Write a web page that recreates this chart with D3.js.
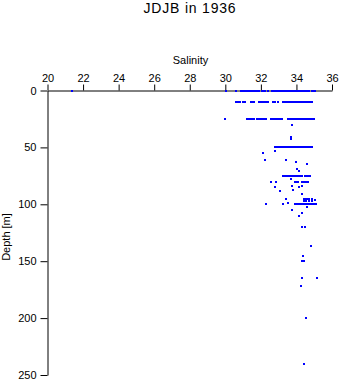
<!DOCTYPE html>
<html><head><meta charset="utf-8">
<script src="https://cdn.jsdelivr.net/npm/d3@7"></script>
<style>body{margin:0;background:#fff}svg{display:block}text{font-family:"Liberation Sans",Arial,sans-serif;fill:#000}</style>
</head><body><svg id="c" width="341" height="384"></svg>
<script>
const title = "JDJB in 1936";
const xLabel = "Salinity";
const yLabel = "Depth [m]";
const xTicks = [20,22,24,26,28,30,32,34,36];
const yTicks = [0,50,100,150,200,250];

const sal0 = [21.38,30.02,30.06,30.58,30.9,31.0,31.1,31.2,31.3,31.4,31.5,31.6,31.7,31.8,31.87,32.04,32.15,32.26,32.38,32.6,32.7,32.8,32.9,33.0,33.1,33.2,33.3,33.4,33.5,33.6,33.7,33.8,33.9,34.0,34.1,34.2,34.3,34.4,34.5,34.6,34.7,34.85,34.95,35.07];
const sal10 = [30.62,30.72,30.8,30.97,31.08,31.42,31.52,31.62,31.89,32.0,32.1,32.2,32.3,32.42,32.67,32.8,32.94,33.22,33.33,33.44,33.55,33.66,33.77,33.88,34.0,34.1,34.2,34.3,34.4,34.51,34.58,34.7,34.8,34.89];
const sal25 = [29.97,31.21,31.32,31.42,31.52,31.63,31.8,31.9,32.0,32.1,32.2,32.3,32.55,32.65,32.75,32.85,32.95,33.05,33.16,33.5,33.6,33.7,33.8,33.9,34.0,34.1,34.2,34.3,34.4,34.5,34.6,34.7,34.8,34.9,34.96];
const sal50 = [32.77,32.88,32.99,33.1,33.21,33.32,33.43,33.54,33.65,33.72,33.83,33.94,34.05,34.16,34.27,34.38,34.49,34.6,34.71,34.82,34.87];
const sal75 = [33.27,33.38,33.49,33.6,33.71,33.82,33.93,34.04,34.15,34.26,34.34,34.46,34.57,34.68,34.79];
const sal80 = [32.55,32.83,33.9,34.0,34.1,34.34,34.45,34.55,34.64];
const sal100 = [32.3,33.27,33.9,34.0,34.1,34.2,34.3,34.4,34.5,34.6,34.7,34.8,34.9,35.0,35.1];
const otherSal   = [33.74,33.67,33.72,32.13,32.79,32.25,33.4,33.97,34.58,34.02,34.13,33.71,32.79,33.74,34.12,34.3,33.09,33.8,34.3,33.4,34.4,34.5,34.6,34.7,34.85,34.4,34.55,34.7,34.85,35.03,33.54,34.58,33.74,34.33,34.13,34.46,34.34,34.81,34.36,34.3,34.42,34.34,35.15,34.25,34.51,34.42];
const otherDepth = [30,41,43,55,53,61,61,63,65,69,71,78,85,84,85,84,88,87,91,95,95,95,95,95,95,97,97,97,97,96,99,102,105,108,110,120,120,137,145,150,150,165,165,172,200,240];

const pts = [];
[[sal0,0],[sal10,10],[sal25,25],[sal50,50],[sal75,75],[sal80,80],[sal100,100]].forEach(([arr,d])=>arr.forEach(s=>pts.push({s,d})));
otherSal.forEach((s,i)=>pts.push({s,d:otherDepth[i]}));

const svg = d3.select("#c");
const x = d3.scaleLinear().domain([20,36]).range([47.5,332]);
const y = d3.scaleLinear().domain([0,250]).range([90.5,375]);

svg.append("text").attr("x",190).attr("y",13).attr("text-anchor","middle")
  .attr("font-size",14).attr("letter-spacing",0.8).text(title);
svg.append("text").attr("x",190.5).attr("y",64).attr("text-anchor","middle")
  .attr("font-size",11).text(xLabel);
svg.append("text").attr("transform","translate(10,237) rotate(-90)").attr("text-anchor","middle")
  .attr("font-size",11).text(yLabel);

const xa = svg.append("g").attr("transform","translate(0,90.5)")
  .call(d3.axisTop(x).tickValues(xTicks).tickSize(6).tickPadding(3).tickSizeOuter(0));
const ya = svg.append("g").attr("transform","translate(47.5,0)")
  .call(d3.axisLeft(y).tickValues(yTicks).tickSize(7).tickPadding(4).tickSizeOuter(0));
[xa,ya].forEach(g=>{
  g.selectAll("text").attr("font-size",11).attr("font-family","Liberation Sans, Arial, sans-serif").attr("fill","#000");
  g.selectAll("line,path").attr("stroke","#000");
});

svg.append("g").attr("shape-rendering","crispEdges").selectAll("rect").data(pts).join("rect")
  .attr("x",p=>Math.round(x(p.s)-1)).attr("y",p=>Math.round(y(p.d)-1))
  .attr("width",2).attr("height",2).attr("fill","#0000ff");
</script></body></html>
